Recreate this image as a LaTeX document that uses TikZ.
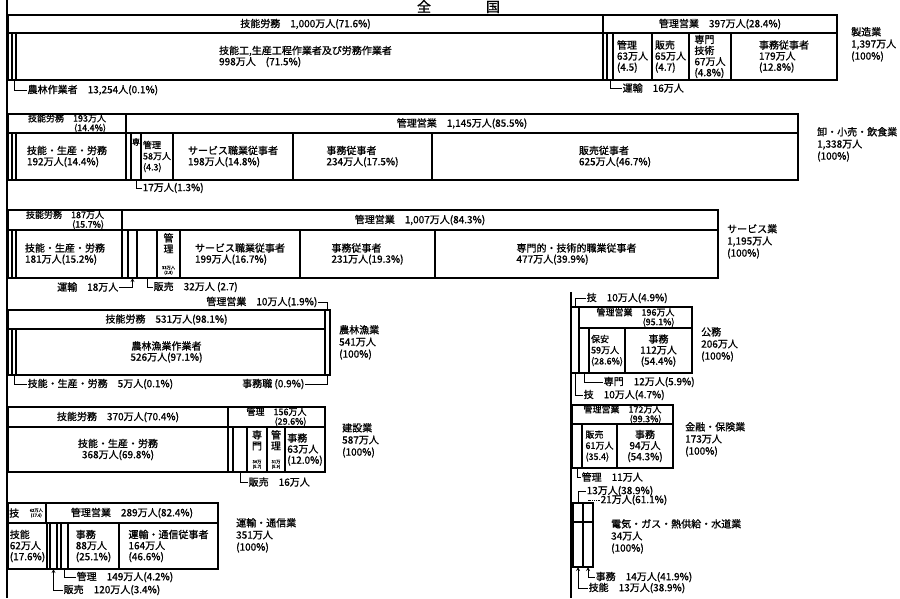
\documentclass[tikz,border=0pt]{standalone}
\usepackage{fontspec}
\setmainfont{Noto Sans CJK JP}[FakeBold=1.0]
\newcommand{\mainsz}{\fontsize{10}{11}\selectfont}
\newcommand{\rowsz}{\fontsize{9}{9.5}\selectfont}
\newcommand{\narrowsz}{\fontsize{9}{11}\selectfont}
\newcommand{\tinysz}{\fontsize{4.2}{4.8}\selectfont}
\begin{document}
\begin{tikzpicture}[
    x=1pt, y=-1pt,
    >=stealth,
    every node/.style={font=\mainsz},
    box/.style={
        rectangle,
        draw,
        line width=1.1pt,
        inner sep=0pt,
        outer sep=0pt,
        anchor=north west,
        align=left
    },
    cell/.style 2 args={
        minimum width=#1pt,
        minimum height=#2pt
    },
    lead/.style={
        draw,
        line width=0.8pt
    },
    note/.style={
        inner sep=0.5pt,
        anchor=west
    },
    tinynum/.style={
        font=\tinysz,
        inner sep=0pt,
        align=center
    },
    industry/.style={
        inner sep=0pt,
        anchor=north west,
        align=left,
        font=\fontsize{10}{12}\selectfont
    },
    spine/.style={
        draw,
        line width=1.8pt
    }
]
\useasboundingbox (0,0) rectangle (900,598);

% 表題
\node[font=\fontsize{14}{14}\selectfont, anchor=base, inner sep=0pt] (title) at (458.5,12) {全\hspace{55pt}国};

% 軸
\coordinate (leftTop) at (7,0);
\coordinate (leftBot) at (7,598);
\draw[spine] (leftTop) -- (leftBot);
\coordinate (rightTop) at (571,292);
\coordinate (rightBot) at (571,598);
\draw[spine] (rightTop) -- (rightBot);

% 製造業
\node[box, cell={595}{18}] (mfgSkill) at (8,15) {技能労務　1,000万人(71.6\%)};
\node[box, cell={234}{18}] (mfgMgmt) at (603,15) {管理営業　397万人(28.4\%)};
\node[box, cell={595}{47}] (mfgWork) at (8,33) {技能工,生産工程作業者及び労務作業者\\998万人　(71.5\%)};
\node[box, cell={4}{47}] (mfgFarm) at (12,33) {};
\node[box, cell={4}{47}] (mfgOther) at (603,33) {};
\node[box, cell={6}{47}] (mfgTrans) at (607,33) {};
\node[box, cell={39}{47}] (mfgAdm) at (613,33) {管理\\63万人\\(4.5)};
\node[box, cell={37}{47}] (mfgSales) at (652,33) {販売\\65万人\\(4.7)};
\node[box, cell={42}{47}] (mfgPro) at (689,33) {専門\\技術\\67万人\\(4.8\%)};
\node[box, cell={106}{47}] (mfgClerk) at (731,33) {事務従事者\\179万人\\(12.8\%)};
\node[note] (mfgFarmLab) at (27,90) {農林作業者　13,254人(0.1\%)};
\draw[lead] (mfgFarm.south) |- (mfgFarmLab.west);
\node[note] (mfgTransLab) at (622,88) {運輸　16万人};
\draw[lead] (mfgTrans.south) |- (mfgTransLab.west);
\node[industry] (mfgInd) at (851,27) {製造業\\1,397万人\\(100\%)};

% 卸・小売・飲食業
\node[box, cell={118}{19}, font=\rowsz, align=right] (retSkill) at (8,114) {技能労務　193万人\\(14.4\%)};
\node[box, cell={672}{19}] (retMgmt) at (126,114) {管理営業　1,145万人(85.5\%)};
\node[box, cell={118}{47}] (retWork) at (8,133) {技能・生産・労務\\192万人(14.4\%)};
\node[box, cell={4}{47}] (retEdge) at (12,133) {};
\node[box, cell={5}{47}] (retOther) at (126,133) {};
\node[box, cell={10}{47}] (retPro) at (131,133) {};
\node[anchor=north, inner sep=0pt, font=\fontsize{8}{8}\selectfont] (retProTxt) at ([yshift=-5pt]retPro.north) {専};
\node[box, cell={32}{47}, font=\narrowsz] (retAdm) at (141,133) {管理\\58万人\\(4.3)};
\node[box, cell={120}{47}] (retServ) at (173,133) {サービス職業従事者\\198万人(14.8\%)};
\node[box, cell={139}{47}] (retClerk) at (293,133) {事務従事者\\234万人(17.5\%)};
\node[box, cell={366}{47}] (retSales) at (432,133) {販売従事者\\625万人(46.7\%)};
\node[note] (retProLab) at (142,188) {17万人(1.3\%)};
\draw[lead] (retPro.south) |- (retProLab.west);
\node[industry] (retInd) at (817,127) {卸・小売・飲食業\\1,338万人\\(100\%)};

% サービス業
\node[box, cell={114}{20}, font=\rowsz, align=right] (svcSkill) at (8,210) {技能労務　187万人\\(15.7\%)};
\node[box, cell={596}{20}] (svcMgmt) at (122,210) {管理営業　1,007万人(84.3\%)};
\node[box, cell={114}{48}] (svcWork) at (8,230) {技能・生産・労務\\181万人(15.2\%)};
\node[box, cell={4}{48}] (svcEdge) at (12,230) {};
\node[box, cell={6}{48}] (svcOther) at (122,230) {};
\node[box, cell={9}{48}] (svcTrans) at (128,230) {};
\node[box, cell={20}{48}] (svcSales) at (137,230) {};
\node[box, cell={23}{48}] (svcAdm) at (157,230) {};
\node[anchor=north, inner sep=0pt, align=center] (svcAdmTxt) at ([yshift=-3pt]svcAdm.north) {管\\理};
\node[tinynum, anchor=south] (svcAdmNum) at ([yshift=3pt]svcAdm.south) {33万人\\(2.8)};
\node[box, cell={120}{48}] (svcServ) at (180,230) {サービス職業従事者\\199万人(16.7\%)};
\node[box, cell={135}{48}] (svcClerk) at (300,230) {事務従事者\\231万人(19.3\%)};
\node[box, cell={283}{48}] (svcPro) at (435,230) {専門的・技術的職業従事者\\477万人(39.9\%)};
\node[note, anchor=east] (svcTransLab) at (119,287) {運輸　18万人};
\draw[lead, ->] (svcTransLab.east) -| (svcTrans.south);
\node[note] (svcSalesLab) at (153,287) {販売　32万人 (2.7)};
\draw[lead] (svcSales.south) |- (svcSalesLab.west);
\node[industry] (svcInd) at (727,224) {サービス業\\1,195万人\\(100\%)};

% 農林漁業
\node[box, cell={317}{19}] (agrSkill) at (8,310) {技能労務　531万人(98.1\%)};
\node[box, cell={317}{46}, align=center] (agrWork) at (8,329) {農林漁業作業者\\526万人(97.1\%)};
\node[box, cell={4}{46}] (agrEdge) at (12,329) {};
\node[box, cell={5}{65}] (agrMgmt) at (325,310) {};
\node[note, anchor=east] (agrMgmtLab) at (318,302) {管理営業　10万人(1.9\%)};
\draw[lead] (agrMgmtLab.east) -| (agrMgmt.north);
\node[note] (agrEdgeLab) at (27,384) {技能・生産・労務　5万人(0.1\%)};
\draw[lead] (agrEdge.south) |- (agrEdgeLab.west);
\node[note, anchor=east] (agrClerkLab) at (305,384) {事務職 (0.9\%)};
\draw[lead] (agrClerkLab.east) -| (agrMgmt.south);
\node[industry] (agrInd) at (339,325) {農林漁業\\541万人\\(100\%)};

% 建設業
\node[box, cell={220}{20}] (conSkill) at (8,407) {技能労務　370万人(70.4\%)};
\node[box, cell={97}{20}, font=\rowsz, align=right] (conMgmt) at (228,407) {管理　156万人\\(29.6\%)};
\node[box, cell={220}{45}, align=center] (conWork) at (8,427) {技能・生産・労務\\368万人(69.8\%)};
\node[box, cell={5}{45}] (conOther) at (228,427) {};
\node[box, cell={14}{45}] (conSales) at (233,427) {};
\node[box, cell={20}{45}] (conPro) at (247,427) {};
\node[anchor=north, inner sep=0pt, align=center] (conProTxt) at ([yshift=-3pt]conPro.north) {専\\門};
\node[tinynum, anchor=south] (conProNum) at ([yshift=3pt]conPro.south) {30万\\(5.7)};
\node[box, cell={18}{45}] (conAdm) at (267,427) {};
\node[anchor=north, inner sep=0pt, align=center] (conAdmTxt) at ([yshift=-3pt]conAdm.north) {管\\理};
\node[tinynum, anchor=south] (conAdmNum) at ([yshift=3pt]conAdm.south) {31万\\(5.9)};
\node[box, cell={40}{45}] (conClerk) at (285,427) {事務\\63万人\\(12.0\%)};
\node[note] (conSalesLab) at (248,482) {販売　16万人};
\draw[lead] (conSales.south) |- (conSalesLab.west);
\node[industry] (conInd) at (342,423) {建設業\\587万人\\(100\%)};

% 運輸・通信業
\node[box, cell={38}{20}] (trnSkillTop) at (8,503) {};
\node[anchor=west, inner sep=0pt] (trnSkillTopTxt) at ([xshift=1pt]trnSkillTop.west) {技};
\node[tinynum, anchor=east] (trnSkillTopNum) at ([xshift=-3pt]trnSkillTop.east) {62万人\\(17.6)};
\node[box, cell={172}{20}] (trnMgmt) at (46,503) {管理営業　289万人(82.4\%)};
\node[box, cell={39}{46}] (trnSkill) at (8,523) {技能\\62万人\\(17.6\%)};
\node[box, cell={3}{46}] (trnOther) at (47,523) {};
\node[box, cell={7}{46}] (trnSales) at (50,523) {};
\node[box, cell={4}{46}] (trnOther2) at (57,523) {};
\node[box, cell={7}{46}] (trnAdm) at (61,523) {};
\node[box, cell={51}{46}] (trnClerk) at (68,523) {事務\\88万人\\(25.1\%)};
\node[box, cell={99}{46}] (trnWork) at (119,523) {運輸・通信従事者\\164万人\\(46.6\%)};
\node[note] (trnAdmLab) at (76,577) {管理　149万人(4.2\%)};
\draw[lead] (trnAdm.south) |- (trnAdmLab.west);
\node[note] (trnSalesLab) at (63,590) {販売　120万人(3.4\%)};
\draw[lead, <-] (trnSales.south) |- (trnSalesLab.west);
\node[industry] (trnInd) at (236,518) {運輸・通信業\\351万人\\(100\%)};

% 公務
\node[box, cell={8}{66}] (pubSkill) at (571,307) {};
\node[box, cell={113}{21}, font=\rowsz, align=right] (pubMgmt) at (579,307) {管理営業　196万人\\(95.1\%)};
\node[box, cell={10}{45}] (pubPro) at (579,328) {};
\node[box, cell={36}{45}, font=\narrowsz] (pubSec) at (589,328) {保安\\59万人\\(28.6\%)};
\node[box, cell={67}{45}, align=center] (pubClerk) at (625,328) {事務\\112万人\\(54.4\%)};
\node[note] (pubSkillLab) at (586,298) {技　10万人(4.9\%)};
\draw[lead] (pubSkill.north) |- (pubSkillLab.west);
\node[note] (pubProLab) at (603,382) {専門　12万人(5.9\%)};
\draw[lead] (pubPro.south) |- (pubProLab.west);
\node[note] (pubSkillLab2) at (583,395) {技　10万人(4.7\%)};
\draw[lead] (pubSkill.south) |- (pubSkillLab2.west);
\node[industry] (pubInd) at (701,327) {公務\\206万人\\(100\%)};

% 金融・保険業
\node[box, cell={101}{19}, font=\rowsz, align=right] (finMgmt) at (572,405) {管理営業　172万人\\(99.3\%)};
\node[box, cell={10}{44}] (finAdm) at (572,424) {};
\node[box, cell={35}{44}, font=\narrowsz] (finSales) at (582,424) {販売\\61万人\\(35.4)};
\node[box, cell={56}{44}, align=center] (finClerk) at (617,424) {事務\\94万人\\(54.3\%)};
\node[note] (finAdmLab) at (581,477) {管理　11万人};
\draw[lead] (finAdm.south) |- (finAdmLab.west);
\node[industry] (finInd) at (685,422) {金融・保険業\\173万人\\(100\%)};

% 電気・ガス・熱供給・水道業
\node[box, cell={10}{19}] (eleSkillTop) at (573,503) {};
\node[box, cell={10}{19}] (eleMgmtTop) at (583,503) {};
\node[box, cell={10}{45}] (eleSkill) at (573,522) {};
\node[box, cell={10}{45}] (eleClerk) at (583,522) {};
\node[note] (eleSkillTopLab) at (586,491) {13万人(38.9\%)};
\draw[lead] (eleSkillTop.north) |- (eleSkillTopLab.west);
\node[note] (eleMgmtTopLab) at (600,500) {21万人(61.1\%)};
\draw[lead, densely dotted] (eleMgmtTop.north) |- (eleMgmtTopLab.west);
\node[note] (eleClerkLab) at (595,577) {事務　14万人(41.9\%)};
\draw[lead, <-] (eleClerk.south) |- (eleClerkLab.west);
\node[note] (eleSkillLab) at (588,588) {技能　13万人(38.9\%)};
\draw[lead, <-] (eleSkill.south) |- (eleSkillLab.west);
\node[industry] (eleInd) at (611,519) {電気・ガス・熱供給・水道業\\34万人\\(100\%)};

\end{tikzpicture}
\end{document}
